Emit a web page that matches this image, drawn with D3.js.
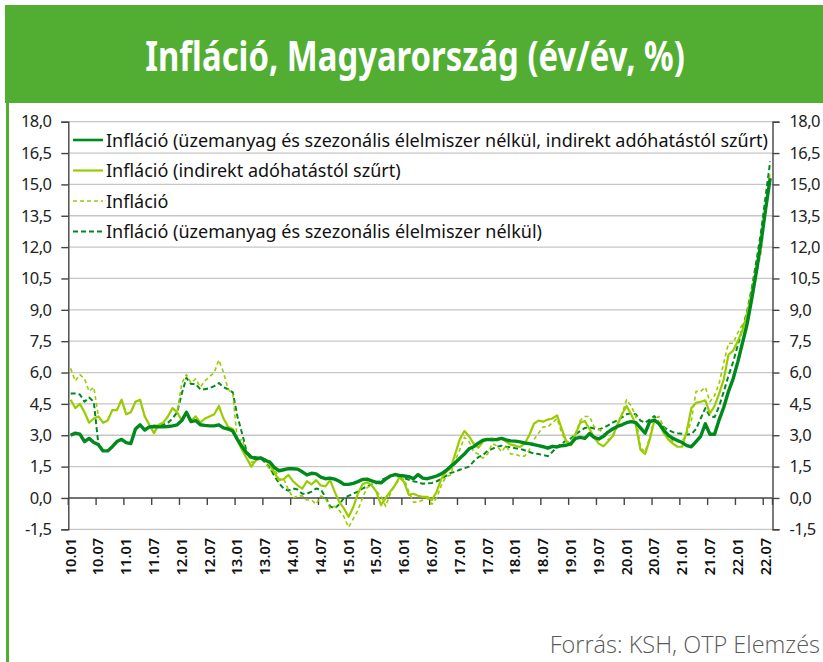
<!DOCTYPE html>
<html>
<head>
<meta charset="utf-8">
<script src="https://cdn.jsdelivr.net/npm/d3@7"></script>
<style>
  body { margin: 0; background: #fff; }
  svg { display: block; font-family: "Noto Sans", "Open Sans", sans-serif; }
</style>
</head>
<body>
<svg id="chart" width="823" height="662"></svg>
<script>
// months 2010.01 - 2022.08, labels like "10.01"
var months = [];
for (var yy = 10; yy <= 22; yy++) {
  for (var mm = 1; mm <= 12; mm++) {
    if (yy === 22 && mm > 8) break;
    months.push(yy + "." + (mm < 10 ? "0" : "") + mm);
  }
}

var yTicks = [-1.5, 0, 1.5, 3, 4.5, 6, 7.5, 9, 10.5, 12, 13.5, 15, 16.5, 18];

// Infláció (üzemanyag és szezonális élelmiszer nélkül, indirekt adóhatástól szűrt)
var coreFiltered = [
  3.0, 3.1, 3.05, 2.7, 2.85, 2.65, 2.55, 2.25, 2.25, 2.45, 2.7, 2.8,
  2.65, 2.6, 3.3, 3.5, 3.25, 3.4, 3.42, 3.4, 3.4, 3.42, 3.45, 3.5,
  3.7, 4.1, 3.65, 3.7, 3.5, 3.47, 3.45, 3.45, 3.5, 3.35, 3.3, 3.2,
  2.8, 2.45, 2.15, 1.95, 1.88, 1.92, 1.8, 1.72, 1.45, 1.3, 1.35, 1.4,
  1.4, 1.38, 1.25, 1.1, 1.18, 1.15, 1.0, 0.92, 0.95, 0.9, 0.8, 0.65,
  0.65, 0.7, 0.78, 0.88, 0.9, 0.82, 0.75, 0.72, 0.9, 1.05, 1.12, 1.08,
  1.05, 1.02, 0.92, 1.12, 0.95, 0.92, 0.98, 1.05, 1.15, 1.3, 1.5, 1.68,
  1.9, 2.1, 2.35, 2.45, 2.62, 2.76, 2.8, 2.78, 2.8, 2.85, 2.78, 2.73,
  2.72, 2.68, 2.63, 2.6, 2.55, 2.5, 2.45, 2.38, 2.47, 2.44, 2.5, 2.52,
  2.6, 2.85, 2.9, 2.85, 3.08, 2.9, 2.82, 2.95, 3.15, 3.3, 3.42, 3.5,
  3.6, 3.65, 3.6, 3.35, 3.1, 3.65, 3.72, 3.55, 3.25, 3.0, 2.85, 2.75,
  2.65, 2.5, 2.45, 2.7, 2.95, 3.55, 3.05, 3.05, 3.75, 4.35, 5.1, 5.7,
  6.5, 7.4, 8.3, 9.5, 10.8, 12.2, 13.8, 15.3
];

// Infláció (indirekt adóhatástól szűrt)
var taxFiltered = [
  4.7, 4.3, 4.5, 4.1, 3.6, 3.8, 3.9, 3.6, 3.7, 4.2, 4.2, 4.7,
  4.0, 4.1, 4.6, 4.7, 3.9, 3.5, 3.1, 3.5, 3.6, 3.9, 4.3, 4.1,
  3.7, 4.1, 3.7, 3.9, 3.6, 3.8, 3.9, 4.0, 4.4, 3.8, 3.4, 3.3,
  2.75, 2.3, 1.9, 1.5, 1.8, 1.9, 1.85, 1.6, 1.2, 0.85, 0.9, 1.1,
  0.8, 0.6, 0.45, 0.8, 0.65, 0.85, 0.6, 0.55, 0.85, 0.3, -0.2, -0.5,
  -0.9, -0.45, 0.2, 0.65, 0.75, 0.6, 0.3, -0.35, 0.0, 0.3, 0.6, 1.0,
  0.75, 0.15, 0.2, 0.1, 0.05, 0.05, -0.1, 0.3, 0.9, 1.25, 1.4, 2.1,
  2.8, 3.2, 2.95, 2.6, 2.4, 2.7, 2.8, 2.85, 2.75, 2.85, 2.7, 2.55,
  2.5, 2.44, 2.6, 3.0, 3.55, 3.7, 3.65, 3.75, 3.8, 3.95, 3.3, 2.7,
  2.52, 3.05, 3.6, 3.68, 3.3, 2.9, 2.6, 2.47, 2.7, 2.95, 3.5, 4.0,
  4.4, 4.0, 3.5, 2.3, 2.1, 2.8, 3.7, 3.6, 3.1, 2.8, 2.6, 2.45,
  2.45, 3.2, 4.3, 4.55, 4.6, 4.67, 4.05, 4.4, 5.0, 5.7, 6.85, 7.05,
  7.5, 8.0, 8.8, 9.8, 11.0, 12.3, 13.8, 15.3
];

// Infláció
var headline = [
  6.2, 5.6, 5.9, 5.7, 5.1, 5.3, 3.9, 3.6, 3.7, 4.2, 4.2, 4.7,
  4.0, 4.1, 4.6, 4.7, 3.9, 3.5, 3.1, 3.5, 3.6, 3.9, 4.3, 4.1,
  5.5, 5.9, 5.5, 5.7, 5.3, 5.6, 5.8, 6.0, 6.6, 6.0, 5.2, 5.0,
  2.7, 2.8, 2.2, 1.7, 1.8, 1.9, 1.8, 1.3, 1.4, 0.9, 0.9, 0.4,
  0.0, 0.1, 0.1, -0.1, -0.1, -0.3, 0.1, 0.0, -0.5, -0.4, -0.6, -0.9,
  -1.4, -1.0, -0.6, 0.0, 0.5, 0.6, 0.3, 0.1, -0.4, 0.2, 0.6, 0.9,
  0.9, 0.3, -0.2, -0.2, -0.1, 0.0, -0.3, 0.0, 0.6, 1.0, 1.1, 1.8,
  2.3, 2.9, 2.7, 2.2, 2.1, 1.9, 2.1, 2.6, 2.5, 2.2, 2.5, 2.1,
  2.1, 2.0, 2.0, 2.3, 2.8, 3.1, 3.4, 3.4, 3.6, 3.8, 3.1, 2.7,
  2.7, 3.1, 3.7, 3.9, 3.9, 3.4, 3.3, 3.1, 2.8, 2.9, 3.4, 4.0,
  4.7, 4.4, 3.9, 2.4, 2.2, 2.9, 3.8, 3.9, 3.4, 3.0, 2.7, 2.7,
  2.7, 3.1, 3.7, 5.1, 5.1, 5.3, 4.6, 4.9, 5.5, 6.5, 7.4, 7.4,
  7.9, 8.3, 8.5, 9.5, 10.7, 11.7, 13.7, 15.6
];

// Infláció (üzemanyag és szezonális élelmiszer nélkül)
var core = [
  5.0, 5.0, 4.95, 4.6, 4.8, 4.6, 2.55, 2.25, 2.25, 2.45, 2.7, 2.8,
  2.65, 2.6, 3.3, 3.5, 3.25, 3.4, 3.45, 3.45, 3.5, 3.6, 3.8, 4.1,
  5.0, 5.75, 5.45, 5.45, 5.2, 5.2, 5.25, 5.35, 5.5, 5.3, 5.2, 5.05,
  3.9, 3.1, 2.2, 2.0, 1.95, 1.9, 1.7, 1.45, 1.05, 0.7, 0.45, 0.35,
  0.45, 0.4, 0.2, 0.2, 0.3, 0.45, 0.4, 0.05, -0.4, -0.5, -0.3, 0.0,
  0.1, 0.2, 0.3, 0.45, 0.55, 0.65, 0.7, 0.85, 0.95, 1.05, 1.1, 1.0,
  0.95, 0.87, 0.8, 0.75, 0.68, 0.7, 0.72, 0.8, 0.9, 1.05, 1.2, 1.25,
  1.35, 1.42, 1.5, 1.75, 1.95, 2.05, 2.25, 2.35, 2.45, 2.5, 2.45, 2.42,
  2.38, 2.35, 2.28, 2.2, 2.12, 2.1, 2.05, 2.0, 2.2, 2.45, 2.6, 2.75,
  2.85, 3.05, 3.2, 3.35, 3.38, 3.32, 3.28, 3.35, 3.47, 3.6, 3.72, 3.85,
  4.0, 4.05, 4.0, 3.7, 3.6, 3.75, 3.92, 3.6, 3.4, 3.25, 3.15, 3.1,
  3.07, 3.03, 3.05, 3.3, 3.8, 4.3, 3.9, 3.87, 4.4, 5.1, 5.85, 6.5,
  7.3, 8.1, 8.9, 10.0, 11.3, 12.7, 14.4, 16.1
];

var darkGreen = "#008a1e", lightGreen = "#99cc00", headerGreen = "#52ae32";

var series = [
  { name: "Infláció (üzemanyag és szezonális élelmiszer nélkül)", values: core, color: darkGreen, width: 2, dash: "5,3" },
  { name: "Infláció", values: headline, color: lightGreen, width: 1.6, dash: "4,3" },
  { name: "Infláció (indirekt adóhatástól szűrt)", values: taxFiltered, color: lightGreen, width: 2.2, dash: null },
  { name: "Infláció (üzemanyag és szezonális élelmiszer nélkül, indirekt adóhatástól szűrt)", values: coreFiltered, color: darkGreen, width: 3.4, dash: null }
];
var legendOrder = [3, 2, 1, 0];

var svg = d3.select("#chart");
var plotL = 68.3, plotR = 772.5, plotT = 121.7, plotB = 529.3;

// header + left border
svg.append("rect").attr("x", 5).attr("y", 5).attr("width", 818).attr("height", 98).attr("fill", headerGreen);
svg.append("rect").attr("x", 6).attr("y", 100).attr("width", 3).attr("height", 562).attr("fill", headerGreen);

// title: bold, squeezed horizontally to the reference width (condensed look)
var title = svg.append("text")
  .attr("text-anchor", "middle")
  .attr("fill", "#fff")
  .style("font-weight", 700)
  .style("font-size", "41px")
  .text("Infláció, Magyarország (év/év, %)");
var tw = title.node().getComputedTextLength();
title.attr("transform", "translate(415,71) scale(" + Math.min(1, 540 / tw) + ",1)");

var x = d3.scaleBand().domain(d3.range(months.length)).range([plotL, plotR]).paddingInner(0).paddingOuter(0);
var y = d3.scaleLinear().domain([-1.5, 18]).range([plotB, plotT]);
var cx = function (i) { return x(i) + x.bandwidth() / 2; };

// grid
svg.append("g").selectAll("line").data(yTicks.filter(function (t) { return t !== 0; }))
  .join("line")
  .attr("x1", plotL).attr("x2", plotR)
  .attr("y1", function (d) { return y(d); }).attr("y2", function (d) { return y(d); })
  .attr("stroke", "#c6c6c6").attr("stroke-width", 1.3);

var fmt = function (d) { return d3.format(".1f")(d).replace(".", ",").replace("−", "-"); };

var axisColor = "#444";
var yl = svg.append("g").attr("transform", "translate(" + plotL + ",0)")
  .call(d3.axisLeft(y).tickValues(yTicks).tickFormat(fmt).tickSize(7).tickPadding(10));
var yr = svg.append("g").attr("transform", "translate(" + plotR + ",0)")
  .call(d3.axisRight(y).tickValues(yTicks).tickFormat(fmt).tickSize(7).tickPadding(10));
[yl, yr].forEach(function (g) {
  g.select(".domain").attr("stroke", axisColor).attr("stroke-width", 1.4);
  g.selectAll(".tick line").attr("stroke", axisColor).attr("stroke-width", 1.4);
  g.selectAll(".tick text").attr("fill", "#222").style("font-size", "16.5px")
    .style("font-family", "'Noto Sans', sans-serif").style("letter-spacing", "-0.6px");
});

// x axis at zero
var xTickIdx = d3.range(0, months.length, 6);
var xg = svg.append("g");
xg.append("line").attr("x1", plotL).attr("x2", plotR).attr("y1", y(0)).attr("y2", y(0))
  .attr("stroke", axisColor).attr("stroke-width", 1.4);
xg.selectAll("line.tk").data(xTickIdx.concat([months.length])).join("line").attr("class", "tk")
  .attr("x1", function (i) { return i < months.length ? x(i) : plotR; })
  .attr("x2", function (i) { return i < months.length ? x(i) : plotR; })
  .attr("y1", y(0)).attr("y2", y(0) + 7)
  .attr("stroke", axisColor).attr("stroke-width", 1.4);
xg.selectAll("text").data(xTickIdx).join("text")
  .attr("transform", function (i) { return "translate(" + (cx(i) + 5) + ",538) rotate(-90)"; })
  .attr("text-anchor", "end")
  .attr("fill", "#111")
  .style("font-size", "14.5px").style("font-weight", 600)
  .text(function (i) { return months[i]; });

// lines
var line = d3.line().x(function (d, i) { return cx(i); }).y(function (d) { return y(d); });
svg.append("g").selectAll("path").data(series).join("path")
  .attr("d", function (s) { return line(s.values); })
  .attr("fill", "none")
  .attr("stroke", function (s) { return s.color; })
  .attr("stroke-width", function (s) { return s.width; })
  .attr("stroke-dasharray", function (s) { return s.dash; })
  .attr("stroke-linejoin", "round");

// legend
var lg = svg.append("g");
legendOrder.forEach(function (k, r) {
  var s = series[k], ly = 140 + r * 30.5;
  lg.append("line").attr("x1", 73).attr("x2", 103).attr("y1", ly).attr("y2", ly)
    .attr("stroke", s.color).attr("stroke-width", Math.min(s.width, 2.6)).attr("stroke-dasharray", s.dash);
  var t = lg.append("text").attr("x", 106).attr("y", ly + 6.5).attr("fill", "#111")
    .style("font-size", "18px").text(s.name);
  if (r === 0) {
    // squeeze the long first row so it ends just inside the right axis
    var w = t.node().getComputedTextLength();
    if (w > 662) t.style("letter-spacing", ((662 - w) / s.name.length) + "px");
  }
});

svg.append("text").attr("x", 820).attr("y", 653).attr("text-anchor", "end")
  .attr("fill", "#595959").style("font-size", "23.5px").style("font-weight", 300)
  .style("font-family", "'Open Sans', 'Noto Sans', sans-serif")
  .text("Forrás: KSH, OTP Elemzés");
</script>
</body>
</html>
